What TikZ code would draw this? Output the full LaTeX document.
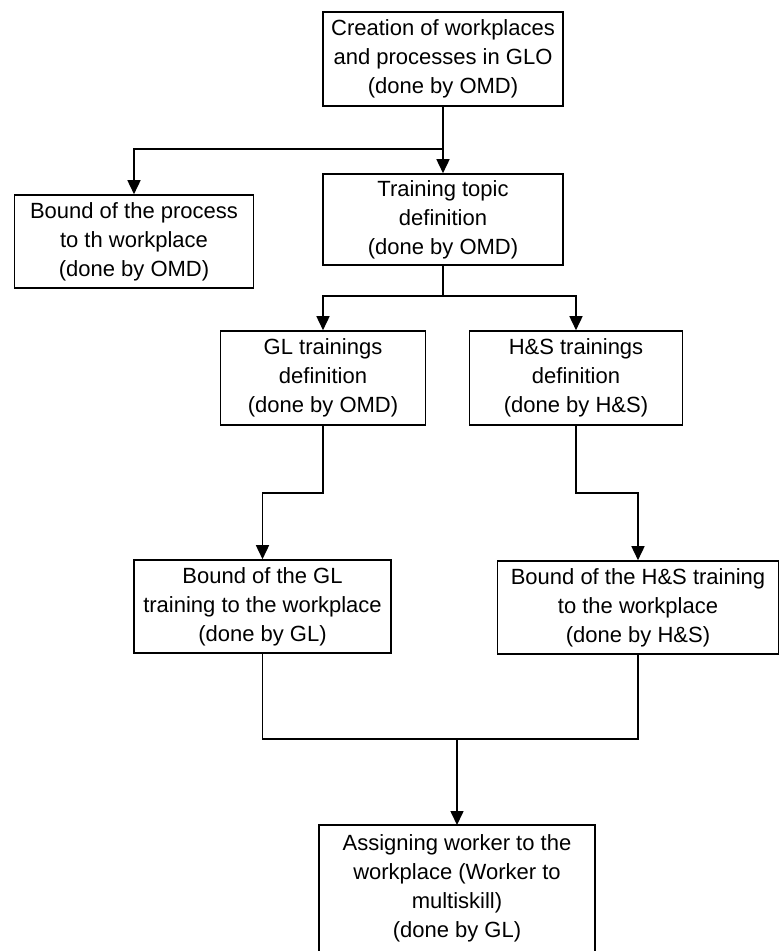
\documentclass[tikz,border=0pt]{standalone}
\usepackage{fontspec}
\setmainfont{Liberation Sans}
\usetikzlibrary{arrows.meta,calc}
\begin{document}
\begin{tikzpicture}[x=1pt,y=-1pt,
  flow/.style={draw=black, line width=1.6pt},
  stepbox/.style={flow, rectangle, align=center, inner sep=0pt,
    font=\fontsize{22}{29}\selectfont},
  link/.style={flow, -{Triangle[length=14pt,width=13pt]}},
  wire/.style={flow}]
\useasboundingbox (0,0) rectangle (782,951);
\clip (0,0) rectangle (782,951);

% process steps
\node[stepbox, minimum width=240pt, minimum height=94pt] (create) at (443,59)
  {Creation of workplaces\\and processes in GLO\\(done by OMD)};
\node[stepbox, minimum width=239pt, minimum height=93pt] (bindproc) at (134,241.5)
  {Bound of the process\\to th workplace\\(done by OMD)};
\node[stepbox, minimum width=240pt, minimum height=91pt] (topic) at (443,219.5)
  {Training topic\\definition\\(done by OMD)};
\node[stepbox, minimum width=205pt, minimum height=94pt] (gldef) at (323,378)
  {GL trainings\\definition\\(done by OMD)};
\node[stepbox, minimum width=213pt, minimum height=94pt] (hsdef) at (576,378)
  {H\&S trainings\\definition\\(done by H\&S)};
\node[stepbox, minimum width=257pt, minimum height=93pt] (glbind) at (262.5,606.5)
  {Bound of the GL\\training to the workplace\\(done by GL)};
\node[stepbox, minimum width=281pt, minimum height=93pt] (hsbind) at (638,607.5)
  {Bound of the H\&S training\\to the workplace\\(done by H\&S)};

% last step: box runs past the lower edge of the page
\node[stepbox, draw=none, minimum width=274pt, inner ysep=9pt, anchor=north]
  (assign) at (457,825)
  {Assigning worker to the\\workplace (Worker to\\multiskill)\\(done by GL)};
\draw[flow] ($(assign.south west)+(0,40)$) -- (assign.north west)
  -- (assign.north east) -- ($(assign.south east)+(0,40)$);

% connectors
\coordinate (fork1) at ($(create.south)+(0,42)$);
\draw[link] (create.south) -- (topic.north);
\draw[link] (fork1) -| (bindproc.north);

\coordinate (fork2) at ($(topic.south)+(0,30)$);
\draw[wire] (topic.south) -- (fork2);
\draw[link] (fork2) -| (gldef.north);
\draw[link] (fork2) -| (hsdef.north);

\draw[link] (gldef.south) -- ++(0,67) -| (glbind.north);
\draw[link] (hsdef.south) -- ++(0,67) -| (hsbind.north);

\coordinate (merge) at ($(glbind.south)+(194.5,85)$);
\draw[wire] (glbind.south) -- ++(0,85) -| (hsbind.south);
\draw[link] (merge) -- (assign.north);
\end{tikzpicture}
\end{document}
